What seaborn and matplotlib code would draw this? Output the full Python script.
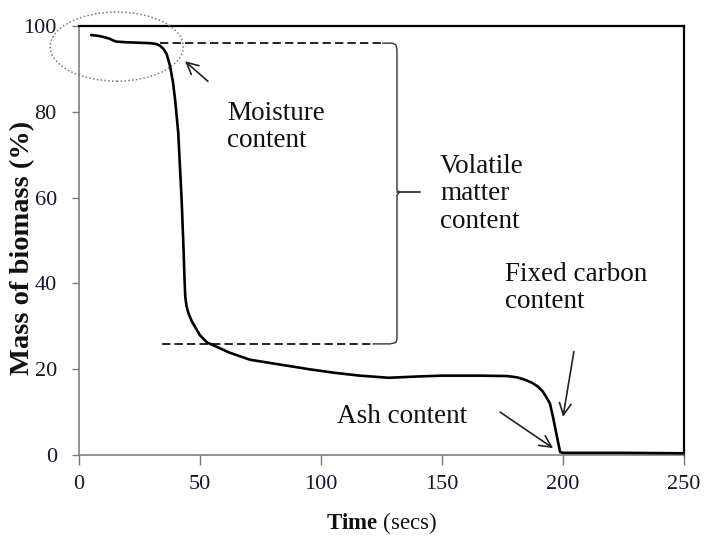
import matplotlib
matplotlib.use("Agg")
import matplotlib.pyplot as plt
from matplotlib.patches import Ellipse
import pandas as pd
import seaborn as sns

# Thermogravimetric mass-loss curve of the biomass sample
time_s = [5, 8, 10.5, 12.8, 14.2, 15.6, 20, 25, 29.3, 32, 33.5, 35, 36.2,
          37.6, 38.8, 39.7, 41.0, 42.4, 43.2, 43.6, 43.9, 44.4, 45.2, 46.5,
          48, 50, 53, 57, 62, 70.7, 84, 95, 105, 116, 128, 140, 150, 165, 177,
          181, 184, 187, 189.5, 191.5, 193, 194.6, 196, 196.7, 197.8, 198.8,
          200, 225, 250]
mass_pct = [97.9, 97.7, 97.4, 97.0, 96.6, 96.35, 96.2, 96.1, 96.0, 95.8,
            95.4, 94.6, 93.5, 90.7, 87.0, 82.9, 75.2, 59.6, 48.0, 41.0, 37.0,
            34.8, 33.1, 31.3, 29.8, 27.9, 26.2, 25.2, 23.9, 22.2, 21.0, 20.0,
            19.2, 18.5, 18.0, 18.3, 18.5, 18.5, 18.4, 18.1, 17.6, 16.9, 16.0,
            14.9, 13.6, 12.0, 8.5, 6.5, 3.5, 0.7, 0.5, 0.5, 0.4]

x_ticks = [0, 50, 100, 150, 200, 250]
y_ticks = [0, 20, 40, 60, 80, 100]

moisture_level = 96.0
volatile_level = 25.9

sns.set_theme(style="ticks")
plt.rcParams["font.family"] = ["Liberation Serif", "DejaVu Serif"]
plt.rcParams["mathtext.fontset"] = "custom"
plt.rcParams["mathtext.rm"] = "Liberation Serif"
plt.rcParams["mathtext.bf"] = "Liberation Serif:bold"

fig = plt.figure(figsize=(7.05, 5.39), dpi=100)
ax = fig.add_axes([79 / 705, 84 / 539, 605 / 705, 429 / 539])

df = pd.DataFrame({"time": time_s, "mass": mass_pct})
sns.lineplot(data=df, x="time", y="mass", sort=False, color="black",
             linewidth=1.9, ax=ax, zorder=3)

ax.set_xlim(0, 250)
ax.set_ylim(0, 100)
ax.set_xticks(x_ticks)
ax.set_yticks(y_ticks)
ax.set_xticklabels([str(v) for v in x_ticks])
ax.set_yticklabels([str(v) for v in y_ticks])

txt_col = "#15152e"
ax.tick_params(axis="x", direction="out", length=7.5, width=1.0,
               color="#777777", labelsize=16, labelcolor=txt_col, pad=7)
ax.tick_params(axis="y", direction="out", length=5, width=1.0,
               color="#777777", labelsize=16, labelcolor=txt_col, pad=11)

for side in ("left", "bottom"):
    ax.spines[side].set_color("#808080")
    ax.spines[side].set_linewidth(1.2)
for side in ("top", "right"):
    ax.spines[side].set_color("black")
    ax.spines[side].set_linewidth(1.6)

ax.set_xlabel(r"$\mathbf{Time}$ (secs)", fontsize=16.5, color="#111111",
              va="center")
ax.xaxis.set_label_coords(0.5, -0.158)
ax.set_ylabel("Mass of biomass (%)", fontsize=20.5, fontweight="bold",
              color="#111111", va="center")
ax.yaxis.set_label_coords(-0.093, 0.483)

# Reference levels bracketing the volatile matter
ax.plot([33.5, 125.5], [moisture_level, moisture_level], color="black",
        lw=1.2, dashes=(5, 2.5))
ax.plot([34.3, 121.5], [volatile_level, volatile_level], color="black",
        lw=1.2, dashes=(5, 2.5))

# Bracket on the right of the dashed levels
bx = 131.4
ax.plot([125.5, 129.5, 130.9, bx, bx, 132.3, bx, bx, 130.9, 128.5, 121.5],
        [moisture_level, moisture_level, 95.6, 94.6, 61.8, 61.2, 60.6,
         27.0, 26.2, volatile_level, volatile_level],
        color="#444444", lw=1.1, solid_joinstyle="round")
ax.plot([bx, 140.9], [61.2, 61.2], color="#333333", lw=1.3)

# Dotted ellipse around the drying region
ax.add_patch(Ellipse((15.6, 95.2), width=55, height=16.1, fill=False,
                     ec="#7a7a7a", lw=1.1, ls=(0, (1, 1.5)), clip_on=False,
                     zorder=4))

note_kw = dict(fontsize=19.5, color="#111111", linespacing=1.12,
               va="baseline", ha="left")
ax.text(61.2, 71.7, "Moisture\ncontent", **note_kw)
ax.text(149.2, 53.0, "Volatile\nmatter\ncontent", **note_kw)
ax.text(176.0, 34.3, "Fixed carbon\ncontent", **note_kw)
ax.text(106.6, 7.5, "Ash content", **note_kw)

arrow_kw = dict(arrowstyle="->,head_length=0.7,head_width=0.35",
                color="#222222", lw=1.2, shrinkA=0, shrinkB=0)
ax.annotate("", xy=(43.8, 91.8), xytext=(53.3, 87.1), arrowprops=arrow_kw)
ax.annotate("", xy=(195.9, 1.6), xytext=(174.0, 10.0), arrowprops=arrow_kw)
ax.annotate("", xy=(200.0, 8.9), xytext=(204.5, 24.1), arrowprops=arrow_kw)

fig.savefig("out.png", dpi=100, facecolor="white")
